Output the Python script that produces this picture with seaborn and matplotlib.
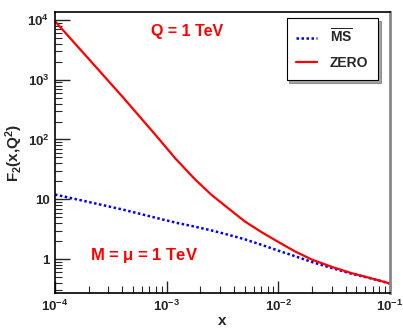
import numpy as np
import pandas as pd
import seaborn as sns
import matplotlib.pyplot as plt
from matplotlib.ticker import FixedLocator, FixedFormatter, LogLocator, NullFormatter

# values (log-log)
x = [1e-4, 4e-4, 8e-4, 1.2e-3, 1.8e-3, 2.5e-3, 3.5e-3, 5e-3, 7e-3,
     1e-2, 1.4e-2, 2e-2, 3e-2, 4.5e-2, 7e-2, 1e-1]
f2_zero = [9550, 525, 117.5, 47.9, 21.4, 12.0, 7.24, 4.27, 2.85,
           1.93, 1.35, 0.977, 0.741, 0.582, 0.468, 0.389]
f2_msbar = [12.0, 6.76, 4.90, 4.07, 3.47, 3.02, 2.57, 2.14, 1.74,
            1.38, 1.12, 0.891, 0.708, 0.569, 0.466, 0.389]

yticks = [1, 10, 100, 1000, 10000]
ytick_labels = ["1", "10", "$10^{2}$", "$10^{3}$", "$10^{4}$"]
xticks = [1e-4, 1e-3, 1e-2, 1e-1]
xtick_labels = ["$10^{-4}$", "$10^{-3}$", "$10^{-2}$", "$10^{-1}$"]

sns.set_style("ticks")
plt.rcParams['font.family'] = ['Liberation Sans', 'DejaVu Sans']
plt.rcParams['font.weight'] = 'bold'
plt.rcParams['mathtext.fontset'] = 'custom'
plt.rcParams['mathtext.rm'] = 'Liberation Sans:bold'
plt.rcParams['mathtext.it'] = 'Liberation Sans:bold'
plt.rcParams['mathtext.bf'] = 'Liberation Sans:bold'
plt.rcParams['mathtext.default'] = 'bf'

df = pd.DataFrame({"x": x, "zero": f2_zero, "msbar": f2_msbar})

fig = plt.figure(figsize=(4.03, 3.32), dpi=100)
ax = fig.add_axes([55 / 403, 39 / 332, 335 / 403, 281 / 332])

sns.lineplot(data=df, x="x", y="msbar", ax=ax, color="#0000ff", lw=1.8,
             linestyle=(0, (1, 1)), label=r"$\overline{\mathbf{MS}}$")
sns.lineplot(data=df, x="x", y="zero", ax=ax, color="#ff0000", lw=1.6, label="ZERO")

ax.set_xscale("log")
ax.set_yscale("log")
ax.set_xlim(1e-4, 1e-1)
ax.set_ylim(0.27, 13600)

ax.yaxis.set_major_locator(FixedLocator(yticks))
ax.yaxis.set_major_formatter(FixedFormatter(ytick_labels))
ax.yaxis.set_minor_locator(LogLocator(base=10, subs=np.arange(2, 10)))
ax.yaxis.set_minor_formatter(NullFormatter())
ax.xaxis.set_major_locator(FixedLocator(xticks))
ax.xaxis.set_major_formatter(FixedFormatter(xtick_labels))
ax.xaxis.set_minor_locator(LogLocator(base=10, subs=np.arange(2, 10)))
ax.xaxis.set_minor_formatter(NullFormatter())

ax.tick_params(which="major", direction="in", length=9, width=1, labelsize=9.5, pad=4)
ax.tick_params(which="minor", direction="in", length=5, width=0.8)
ax.tick_params(axis="y", which="major", length=11)

for s in ["left", "bottom", "top"]:
    ax.spines[s].set_color("black")
    ax.spines[s].set_linewidth(1.2)
ax.spines["right"].set_color("#888888")
ax.spines["right"].set_linewidth(2)

ax.set_xlabel("x", fontsize=11, fontweight="bold", labelpad=0)
ax.set_ylabel("F$_{2}$(x,Q$^{2}$)", fontsize=11, fontweight="bold", labelpad=2)

ax.text(0.394, 0.93, "Q = 1 TeV", transform=ax.transAxes, color="#ff0000",
        fontsize=11.5, fontweight="bold", ha="center", va="center")
ax.text(0.104, 0.135, r"M = $\mathregular{\mu}$ = 1 TeV", transform=ax.transAxes, color="#ff0000",
        fontsize=12, fontweight="bold", ha="left", va="center")

leg = ax.legend(loc="upper right", bbox_to_anchor=(0.964, 0.979), borderaxespad=0,
                frameon=True, fancybox=False, shadow=True, edgecolor="black", fontsize=10,
                handlelength=1.5, handletextpad=0.9, borderpad=0.7, labelspacing=0.75)
leg.get_frame().set_linewidth(0.8)
for t in leg.get_texts():
    t.set_fontweight("bold")

fig.savefig("out.png", dpi=100)
